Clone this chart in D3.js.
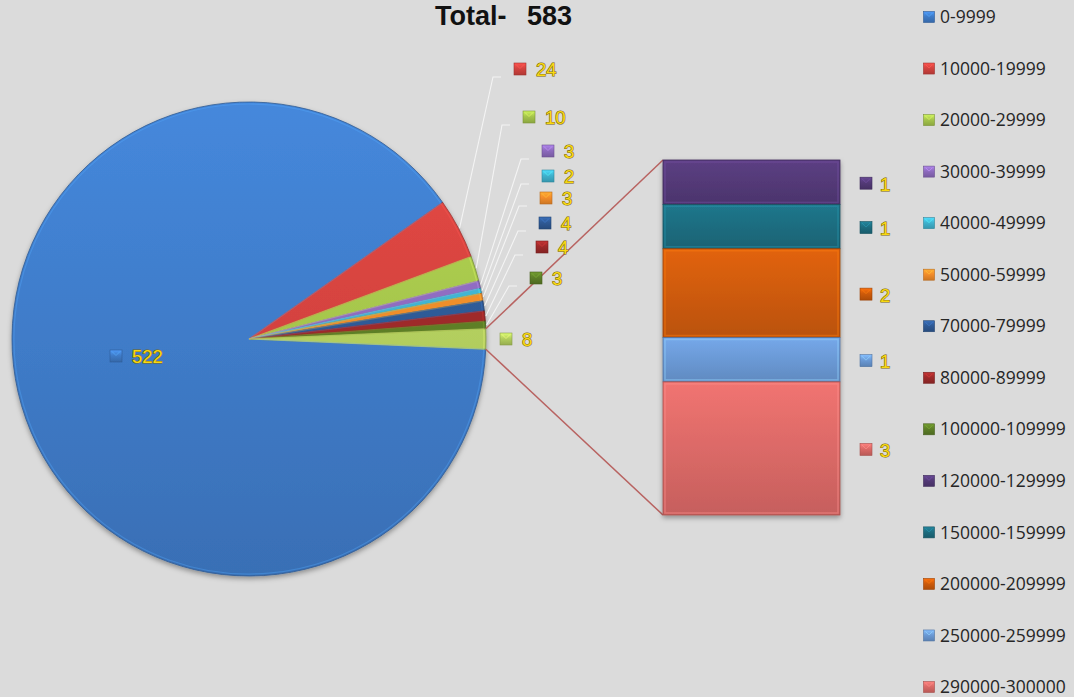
<!DOCTYPE html>
<html>
<head>
<meta charset="utf-8">
<script src="https://cdn.jsdelivr.net/npm/d3@7"></script>
<style>
  html, body { margin: 0; padding: 0; background: #dbdbdb; }
  svg { display: block; }
</style>
</head>
<body>
<svg id="chart" width="1074" height="697"></svg>
<script>
// Income bands and how many records fall into each
const categories = [
  "0-9999", "10000-19999", "20000-29999", "30000-39999", "40000-49999",
  "50000-59999", "70000-79999", "80000-89999", "100000-109999",
  "120000-129999", "150000-159999", "200000-209999", "250000-259999", "290000-300000"
];
const counts = [522, 24, 10, 3, 2, 3, 4, 4, 3, 1, 1, 2, 1, 3];
const pieBands = 9;          // first bands shown in the pie, the rest split out into the bar
const titleText = "Total-";

const bandColors = [
  "#3f7cc9", "#d4433f", "#a6c64c", "#8e6bbf", "#3fb3cf",
  "#f48d2a", "#2f5a96", "#9e2a2a", "#5d7f27",
  "#543a78", "#1d6d80", "#cf5b0a", "#6b9ad6", "#dc6a67"
];
const otherColor = "#b3cf5e";

// label anchors (marker centres) for the pie labels, in slice order, then "other"
const pieLabelPos = [
  [116, 356], [520, 69], [529, 117], [548, 151], [548, 176],
  [546, 198], [545, 223], [542, 247], [536, 278], [506, 339]
];

const svg = d3.select("#chart");
const W = 1074, H = 697;
svg.append("rect").attr("width", W).attr("height", H).attr("fill", "#dbdbdb");

const defs = svg.append("defs");
const shadow = defs.append("filter").attr("id", "shadow")
  .attr("x", "-10%").attr("y", "-10%").attr("width", "120%").attr("height", "125%");
shadow.append("feDropShadow").attr("dx", 0).attr("dy", 2.5)
  .attr("stdDeviation", 2.5).attr("flood-color", "#000").attr("flood-opacity", 0.35);

function vGrad(id, color, x1, y1, x2, y2, user) {
  const c = d3.color(color);
  const g = defs.append("linearGradient").attr("id", id)
    .attr("x1", x1).attr("y1", y1).attr("x2", x2).attr("y2", y2);
  if (user) g.attr("gradientUnits", "userSpaceOnUse");
  g.append("stop").attr("offset", "0%").attr("stop-color", c.brighter(0.25));
  g.append("stop").attr("offset", "100%").attr("stop-color", c.darker(0.3));
  return `url(#${id})`;
}
function markerGrad(id, color) {
  const c = d3.color(color);
  const g = defs.append("linearGradient").attr("id", id)
    .attr("x1", 0).attr("y1", 0).attr("x2", 0).attr("y2", 1);
  g.append("stop").attr("offset", "0%").attr("stop-color", c.brighter(0.6));
  g.append("stop").attr("offset", "45%").attr("stop-color", c);
  g.append("stop").attr("offset", "100%").attr("stop-color", c.darker(0.5));
  return `url(#${id})`;
}

function drawMarker(g, cx, cy, color, id, size) {
  const s = size || 12;
  g.append("rect")
    .attr("x", cx - s / 2).attr("y", cy - s / 2)
    .attr("width", s).attr("height", s)
    .attr("fill", markerGrad(id, color))
    .attr("stroke", d3.color(color).darker(0.8)).attr("stroke-width", 0.6);
  g.append("path")
    .attr("d", `M${cx - s / 2 + 2},${cy - s / 2 + 1.5} L${cx},${cy - 0.5} L${cx + s / 2 - 2},${cy - s / 2 + 1.5}`)
    .attr("fill", "none").attr("stroke", d3.color(color).brighter(1)).attr("stroke-opacity", 0.6)
    .attr("stroke-width", 1);
}

function valueLabel(g, x, y, txt) {
  g.append("text")
    .attr("x", x).attr("y", y).attr("dy", "0.35em")
    .attr("font-family", "Liberation Sans, Arial, sans-serif").attr("font-size", 18.5)
    .attr("fill", "#f8d812").attr("stroke", "#7a650c").attr("stroke-width", 1.1)
    .attr("paint-order", "stroke")
    .text(txt);
}

// ---- title ----
const total = d3.sum(counts);
const title = svg.append("text")
  .attr("x", 435).attr("y", 25)
  .attr("font-family", "Liberation Sans, Arial, sans-serif").attr("font-weight", 700)
  .attr("font-size", 27).attr("fill", "#111");
title.append("tspan").text(titleText);
title.append("tspan").attr("x", 527).text(total);

// ---- pie ----
const cx = 249, cy = 339, R = 237;
const otherValue = d3.sum(counts.slice(pieBands));
const pieValues = counts.slice(0, pieBands).concat([otherValue]);
const pieColors = bandColors.slice(0, pieBands).concat([otherColor]);

// the split-out slice is centred on the right-hand side
const start = Math.PI / 2 + Math.PI * otherValue / total;
const arcs = d3.pie().sort(null).value(d => d)
  .startAngle(start).endAngle(start + 2 * Math.PI)(pieValues);
const arc = d3.arc().innerRadius(0).outerRadius(R);

const pieG = svg.append("g").attr("transform", `translate(${cx},${cy})`);
const pieShadow = pieG.append("g").attr("filter", "url(#shadow)");
pieShadow.selectAll("path.slice").data(arcs).join("path")
  .attr("class", "slice")
  .attr("d", arc)
  .attr("fill", (d, i) => vGrad("pg" + i, pieColors[i], 0, -R, 0, R, true))
  .attr("stroke", (d, i) => d3.color(pieColors[i]).darker(0.9))
  .attr("stroke-width", 0.8)
  .attr("stroke-linejoin", "round");
// soft highlight along slice edges for a bevelled look
pieG.selectAll("path.bevel").data(arcs).join("path")
  .attr("class", "bevel")
  .attr("d", d3.arc().innerRadius(0).outerRadius(R - 2))
  .attr("fill", "none")
  .attr("stroke", (d, i) => d3.color(pieColors[i]).brighter(0.9))
  .attr("stroke-opacity", 0.35).attr("stroke-width", 1.2);

// ---- bar for the split-out bands ----
const barCounts = counts.slice(pieBands);
const barColors = bandColors.slice(pieBands);
const barX0 = 663, barX1 = 840;
const yBar = d3.scaleLinear().domain([0, otherValue]).range([160, 515]);
const cum = d3.cumsum(barCounts);
const segs = barCounts.map((v, i) => ({ v, y0: cum[i] - v, y1: cum[i], i }));

// connectors from the split-out slice to the bar
const oa = arcs[arcs.length - 1];
const pTop = [cx + R * Math.sin(oa.startAngle), cy - R * Math.cos(oa.startAngle)];
const pBot = [cx + R * Math.sin(oa.endAngle), cy - R * Math.cos(oa.endAngle)];
svg.append("g").selectAll("line").data([[pTop, [barX0, yBar(0)]], [pBot, [barX0, yBar(otherValue)]]])
  .join("line")
  .attr("x1", d => d[0][0]).attr("y1", d => d[0][1])
  .attr("x2", d => d[1][0]).attr("y2", d => d[1][1])
  .attr("stroke", "#b86361").attr("stroke-width", 1.5);

const barG = svg.append("g").attr("filter", "url(#shadow)");
barG.selectAll("rect").data(segs).join("rect")
  .attr("x", barX0).attr("width", barX1 - barX0)
  .attr("y", d => yBar(d.y0)).attr("height", d => yBar(d.y1) - yBar(d.y0))
  .attr("fill", d => vGrad("bg" + d.i, barColors[d.i], 0, 0, 0, 1))
  .attr("stroke", d => d3.color(barColors[d.i]).darker(0.8)).attr("stroke-width", 0.8);
svg.append("g").selectAll("rect").data(segs).join("rect")
  .attr("x", barX0 + 2).attr("width", barX1 - barX0 - 4)
  .attr("y", d => yBar(d.y0) + 2).attr("height", d => yBar(d.y1) - yBar(d.y0) - 4)
  .attr("fill", "none")
  .attr("stroke", d => d3.color(barColors[d.i]).brighter(0.9))
  .attr("stroke-opacity", 0.45).attr("stroke-width", 1.5);

// bar labels
const barLab = svg.append("g");
segs.forEach(d => {
  const ym = (yBar(d.y0) + yBar(d.y1)) / 2 + 1;
  drawMarker(barLab, 866, ym, barColors[d.i], "bm" + d.i, 12);
  valueLabel(barLab, 880, ym + 1, d.v);
});

// ---- pie leader lines and labels ----
const lead = svg.append("g");
const pieLab = svg.append("g");
arcs.forEach((d, i) => {
  const [mx, my] = pieLabelPos[i];
  if (i > 0 && i < arcs.length - 1) {
    const a = (d.startAngle + d.endAngle) / 2;
    const ex = cx + (R + 1) * Math.sin(a), ey = cy - (R + 1) * Math.cos(a);
    lead.append("polyline")
      .attr("points", `${ex},${ey} ${mx - 27},${my + 8} ${mx - 19},${my + 8}`)
      .attr("fill", "none").attr("stroke", "#f4f4f4").attr("stroke-width", 1.1);
  }
  drawMarker(pieLab, mx, my, pieColors[i], "pm" + i, 12);
  valueLabel(pieLab, mx + 16, my + 1, d.data);
});

// ---- legend ----
const yLeg = d3.scalePoint().domain(categories).range([17, 687]);
const leg = svg.append("g");
categories.forEach((c, i) => {
  const y = yLeg(c);
  drawMarker(leg, 929, y, bandColors[i], "lm" + i, 11);
  leg.append("text")
    .attr("x", 940).attr("y", y).attr("dy", "0.35em")
    .attr("font-family", "Open Sans, sans-serif").attr("font-size", 17.5)
    .attr("fill", "#262626")
    .text(c);
});
</script>
</body>
</html>
